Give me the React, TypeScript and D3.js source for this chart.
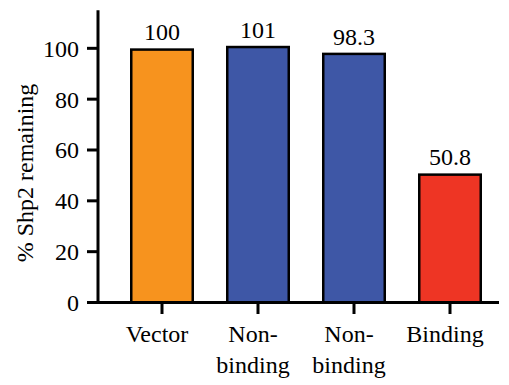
import React from "react";
import * as d3 from "d3";

const categories = ["Vector", "Non-binding A", "Non-binding B", "Binding"];
const labelLines = [["Vector"], ["Non-", "binding"], ["Non-", "binding"], ["Binding"]];
const values = [100, 101, 98.3, 50.8];
const valueLabels = ["100", "101", "98.3", "50.8"];
const colors = ["#F7931E", "#3E57A6", "#3E57A6", "#EE3524"];
const yTicks = [0, 20, 40, 60, 80, 100];

const W = 509;
const H = 385;
const textStyle: React.CSSProperties = {
  fontFamily: '"Liberation Serif", "Times New Roman", Times, serif',
  fontSize: "24px",
};

export default function App() {
  const y = d3.scaleLinear().domain([0, 115]).range([302.5, 10.2]);
  const x = d3
    .scaleBand<string>()
    .domain(categories)
    .range([98, 514])
    .paddingInner(1 / 3)
    .paddingOuter(1 / 3);
  const bw = x.bandwidth();

  return (
    <svg
      width={W}
      height={H}
      style={{ position: "absolute", left: 0, top: 0, background: "#fff" }}
    >
      {/* bars */}
      {categories.map((c, i) => (
        <rect
          key={c}
          x={x(c)! + 1.25}
          y={y(values[i]) + 1.25}
          width={bw - 2.5}
          height={y(0) - y(values[i]) - 1.25}
          fill={colors[i]}
          stroke="#000"
          strokeWidth={2.5}
        />
      ))}

      {/* value labels */}
      {categories.map((c, i) => (
        <text
          key={c + "v"}
          x={x(c)! + bw / 2}
          y={y(values[i]) - 8}
          textAnchor="middle"
          style={textStyle}
          fill="#000"
        >
          {valueLabels[i]}
        </text>
      ))}

      {/* y axis */}
      <line x1={98} x2={98} y1={y(115)} y2={y(0) + 1.5} stroke="#000" strokeWidth={3} />
      {yTicks.map((t) => (
        <g key={t}>
          <line x1={87} x2={98} y1={y(t)} y2={y(t)} stroke="#000" strokeWidth={3} />
          <text
            x={79}
            y={y(t)}
            dy="0.35em"
            textAnchor="end"
            style={textStyle}
            fill="#000"
          >
            {t}
          </text>
        </g>
      ))}

      {/* x axis */}
      <line x1={96.5} x2={499} y1={y(0)} y2={y(0)} stroke="#000" strokeWidth={3} />
      {categories.map((c, i) => {
        const cx = x(c)! + bw / 2;
        return (
          <g key={c + "t"}>
            <line x1={cx} x2={cx} y1={y(0)} y2={y(0) + 11.5} stroke="#000" strokeWidth={3} />
            {labelLines[i].map((ln, j) => (
              <text
                key={j}
                x={cx - 5}
                y={341.5 + j * 31}
                textAnchor="middle"
                style={textStyle}
                fill="#000"
              >
                {ln}
              </text>
            ))}
          </g>
        );
      })}

      {/* y axis title */}
      <text
        transform={`translate(33, 173) rotate(-90)`}
        textAnchor="middle"
        style={textStyle}
        fill="#000"
      >
        % Shp2 remaining
      </text>
    </svg>
  );
}
